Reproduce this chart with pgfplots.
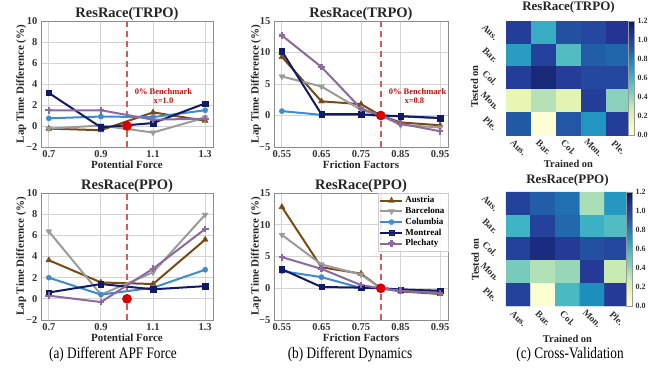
\documentclass[border=0pt]{standalone}
\usepackage{fontspec}
\setmainfont{Liberation Serif}
\newfontfamily\capfont[FakeStretch=0.83]{Liberation Serif}
\usepackage{pgfplots}
\pgfplotsset{compat=1.18}

\definecolor{cAus}{HTML}{7A4A14}
\definecolor{cBar}{HTML}{9B9B9B}
\definecolor{cCol}{HTML}{3D8BD0}
\definecolor{cMon}{HTML}{111A66}
\definecolor{cPle}{HTML}{8C69A0}
\definecolor{cDash}{HTML}{D65A5A}
\definecolor{cDot}{HTML}{D80000}
\definecolor{cAnn}{HTML}{C01010}

\tikzset{ann/.style={font=\bfseries\fontsize{8.5}{10}\selectfont, text=cAnn, anchor=base},
  hmylab/.style={rotate=90, anchor=base, font=\bfseries\fontsize{10.5}{12}\selectfont, text=black!85}}

\pgfplotsset{
  lp/.style={
    scale only axis,
    grid=major,
    grid style={draw=black!17, line width=0.9pt},
    axis line style={draw=black!45, line width=0.6pt},
    major tick length=0pt,
    /pgf/number format/assume math mode=true,
    tick label style={font=\bfseries\fontsize{10.5}{12}\selectfont, text=black!80},
    every axis title/.style={at={(0.5,1)}, anchor=base, yshift=4pt, font=\bfseries\fontsize{14.5}{16}\selectfont, text=black!85},
    every axis x label/.style={at={(axis description cs:0.5,0)}, anchor=base, yshift=-21pt, font=\bfseries\fontsize{11}{13}\selectfont, text=black!85},
    every axis y label/.style={at={(axis description cs:0,0.5)}, rotate=90, anchor=base, yshift=17pt, font=\bfseries\fontsize{11}{13}\selectfont, text=black!85},
    ylabel={Lap Time Difference (\%)},
    every axis plot/.append style={line width=2pt},
  },
  aus/.style={color=cAus, mark=triangle*, mark size=3.4pt, mark options={line width=0.4pt}},
  bar/.style={color=cBar, mark=triangle*, mark size=3.4pt, mark options={rotate=180, line width=0.4pt}},
  col/.style={color=cCol, mark=*, mark size=2.6pt, mark options={line width=0.4pt}},
  mon/.style={color=cMon, mark=square*, mark size=2.7pt, mark options={line width=0.4pt}},
  ple/.style={color=cPle, mark=+, mark size=3.4pt, mark options={line width=2.2pt}},
  hm/.style={
    scale only axis,
    clip=false,
    enlargelimits=false,
    xmin=-0.5, xmax=4.5, ymin=-0.5, ymax=4.5, y dir=reverse,
    xtick={0,1,2,3,4}, ytick={0,1,2,3,4},
    xticklabels={Aus.,Bar.,Col.,Mon.,Ple.},
    yticklabels={Aus.,Bar.,Col.,Mon.,Ple.},
    major tick length=0pt,
    axis line style={draw=none},
    xticklabel style={anchor=center, yshift=-12.5pt, rotate=-45, font=\bfseries\fontsize{9.5}{11}\selectfont, text=black!80},
    yticklabel style={anchor=center, xshift=-16pt, rotate=-45, font=\bfseries\fontsize{9.5}{11}\selectfont, text=black!80},
    colormap={ylgnbu}{rgb255=(255,255,217) rgb255=(237,248,177) rgb255=(199,233,180) rgb255=(127,205,187) rgb255=(65,182,196) rgb255=(29,145,192) rgb255=(34,94,168) rgb255=(37,52,148) rgb255=(8,29,88)},
    point meta min=0, point meta max=1.2,
    colorbar,
    colorbar shift/.style={xshift=-3pt},
    colorbar style={
      at={(parent axis.north east)}, anchor=north west,
      width=6pt, y dir=normal,
      ytick={0,0.2,0.4,0.6,0.8,1.0,1.2},
      yticklabels={0.0,0.2,0.4,0.6,0.8,1.0,1.2},
      yticklabel style={rotate=0, anchor=west, xshift=0pt, font=\bfseries\fontsize{8}{9}\selectfont, text=black!80},
      major tick length=0pt,
      axis line style={draw=black!40, line width=0.4pt},
      title={}, xlabel={}, ylabel={},
    },
    every axis x label/.style={at={(axis description cs:0.5,0)}, anchor=base, font=\bfseries\fontsize{10.5}{12}\selectfont, text=black!85},
    xlabel={Trained on},
  },
}

\begin{document}
\begin{tikzpicture}
\useasboundingbox (0pt,0pt) rectangle (669pt,368pt);

% ---------------- (a) top: TRPO, potential force
\begin{axis}[lp, at={(41pt,221pt)}, anchor=south west, width=172pt, height=126pt,
  title={ResRace(TRPO)}, xlabel={Potential Force},
  xmin=0.67, xmax=1.33, ymin=-2, ymax=10,
  xtick={0.7,0.9,1.1,1.3}, xticklabels={0.7,0.9,1.1,1.3},
  ytick={-2,0,2,4,6,8,10}, yticklabels={−2,0,2,4,6,8,10}]
\addplot[cDash, line width=1.5pt, dash pattern=on 6pt off 4pt, forget plot] coordinates {(1.0,-2) (1.0,10)};
\addplot[aus] coordinates {(0.7,-0.25) (0.9,-0.4) (1.1,1.3) (1.3,0.5)};
\addplot[bar] coordinates {(0.7,-0.25) (0.9,0.05) (1.1,-0.62) (1.3,0.8)};
\addplot[col] coordinates {(0.7,0.73) (0.9,0.9) (1.1,0.85) (1.3,1.5)};
\addplot[mon] coordinates {(0.7,3.15) (0.9,-0.13) (1.1,0.28) (1.3,2.15)};
\addplot[ple] coordinates {(0.7,1.5) (0.9,1.5) (1.1,0.6) (1.3,0.7)};
\addplot[only marks, mark=*, mark size=3.8pt, cDot, forget plot] coordinates {(1.0,0)};
\node[ann] at (axis cs:1.14,3.02) {0\% Benchmark};
\node[ann] at (axis cs:1.14,2.16) {x=1.0};
\end{axis}

% ---------------- (a) bottom: PPO, potential force
\begin{axis}[lp, at={(41pt,48pt)}, anchor=south west, width=172pt, height=127pt,
  title={ResRace(PPO)}, xlabel={Potential Force},
  xmin=0.67, xmax=1.33, ymin=-2, ymax=10,
  xtick={0.7,0.9,1.1,1.3}, xticklabels={0.7,0.9,1.1,1.3},
  ytick={-2,0,2,4,6,8,10}, yticklabels={−2,0,2,4,6,8,10}]
\addplot[cDash, line width=1.5pt, dash pattern=on 6pt off 4pt, forget plot] coordinates {(1.0,-2) (1.0,10)};
\addplot[aus] coordinates {(0.7,3.65) (0.9,1.55) (1.1,1.4) (1.3,5.6)};
\addplot[bar] coordinates {(0.7,6.37) (0.9,0.4) (1.1,2.5) (1.3,7.95)};
\addplot[col] coordinates {(0.7,2.0) (0.9,0.4) (1.1,1.05) (1.3,2.75)};
\addplot[mon] coordinates {(0.7,0.6) (0.9,1.4) (1.1,0.9) (1.3,1.2)};
\addplot[ple] coordinates {(0.7,0.3) (0.9,-0.3) (1.1,2.85) (1.3,6.6)};
\addplot[only marks, mark=*, mark size=3.8pt, cDot, forget plot] coordinates {(1.0,0)};
\end{axis}

% ---------------- (b) top: TRPO, friction
\begin{axis}[lp, at={(274pt,221pt)}, anchor=south west, width=174pt, height=126pt,
  title={ResRace(TRPO)}, xlabel={Friction Factors},
  every axis y label/.append style={yshift=-1.5pt},
  xmin=0.53, xmax=0.97, ymin=-5, ymax=15,
  xtick={0.55,0.65,0.75,0.85,0.95}, xticklabels={0.55,0.65,0.75,0.85,0.95},
  ytick={-5,0,5,10,15}, yticklabels={−5,0,5,10,15}]
\addplot[cDash, line width=1.5pt, dash pattern=on 6pt off 4pt, forget plot] coordinates {(0.8,-5) (0.8,15)};
\addplot[aus] coordinates {(0.55,9.3) (0.65,2.25) (0.75,1.8) (0.8,0) (0.85,-1.1) (0.95,-1.55)};
\addplot[bar] coordinates {(0.55,6.2) (0.65,4.6) (0.75,0.9) (0.8,0) (0.85,-1.5) (0.95,-1.9)};
\addplot[col] coordinates {(0.55,0.7) (0.65,0.1) (0.75,0.1) (0.8,0) (0.85,-0.15) (0.95,-0.4)};
\addplot[mon] coordinates {(0.55,10.2) (0.65,0.2) (0.75,0.2) (0.8,0) (0.85,-0.1) (0.95,-0.4)};
\addplot[ple] coordinates {(0.55,12.7) (0.65,7.7) (0.75,1.1) (0.8,0) (0.85,-1.3) (0.95,-2.5)};
\addplot[only marks, mark=*, mark size=3.8pt, cDot, forget plot] coordinates {(0.8,0)};
\node[ann] at (axis cs:0.893,3.37) {0\% Benchmark};
\node[ann] at (axis cs:0.885,1.83) {x=0.8};
\end{axis}

% ---------------- (b) bottom: PPO, friction
\begin{axis}[lp, at={(274pt,48pt)}, anchor=south west, width=174pt, height=127pt,
  title={ResRace(PPO)}, xlabel={Friction Factors},
  every axis y label/.append style={yshift=-1.5pt},
  xmin=0.53, xmax=0.97, ymin=-5, ymax=15,
  xtick={0.55,0.65,0.75,0.85,0.95}, xticklabels={0.55,0.65,0.75,0.85,0.95},
  ytick={-5,0,5,10,15}, yticklabels={−5,0,5,10,15},
  legend style={at={(1,1)}, anchor=north east, draw=black!20, fill=white, fill opacity=0.85, text opacity=1,
    font=\bfseries\fontsize{9}{10}\selectfont, inner sep=1.5pt, row sep=-1pt},
  legend cell align=left,
  legend image code/.code={\draw[mark repeat=2, mark phase=2] plot coordinates {(0pt,0pt) (11pt,0pt) (22pt,0pt)};}]
\addplot[cDash, line width=1.5pt, dash pattern=on 6pt off 4pt, forget plot] coordinates {(0.8,-5) (0.8,15)};
\addplot[aus] coordinates {(0.55,12.8) (0.65,3.3) (0.75,2.3) (0.8,0) (0.85,-0.5) (0.95,-0.9)};
\addplot[bar] coordinates {(0.55,8.4) (0.65,3.75) (0.75,2.15) (0.8,0) (0.85,-0.4) (0.95,-0.75)};
\addplot[col] coordinates {(0.55,2.7) (0.65,1.75) (0.75,0.05) (0.8,0) (0.85,-0.2) (0.95,-0.4)};
\addplot[mon] coordinates {(0.55,3.0) (0.65,0.2) (0.75,0.1) (0.8,0) (0.85,-0.2) (0.95,-0.4)};
\addplot[ple] coordinates {(0.55,4.9) (0.65,3.05) (0.75,0.5) (0.8,0) (0.85,-0.4) (0.95,-0.75)};
\addplot[only marks, mark=*, mark size=3.8pt, cDot, forget plot] coordinates {(0.8,0)};
\legend{Austria,Barcelona,Columbia,Montreal,Plechaty}
\end{axis}

% ---------------- (c) top heatmap TRPO
\begin{axis}[hm, at={(506pt,233pt)}, anchor=south west, width=125pt, height=114pt,
  title={ResRace(TRPO)},
  title style={at={(0.5,1)}, anchor=base, yshift=5pt, font=\bfseries\fontsize{13}{15}\selectfont, text=black!85},
  xlabel style={yshift=-32pt}]
\addplot[matrix plot*, mesh/cols=5, point meta=explicit] table[meta=c] {
x y c
0 0 1.02
1 0 0.64
2 0 0.95
3 0 0.98
4 0 1.05
0 1 0.70
1 1 1.00
2 1 0.56
3 1 0.90
4 1 0.88
0 2 1.02
1 2 1.12
2 2 1.02
3 2 0.98
4 2 0.98
0 3 0.17
1 3 0.34
2 3 0.19
3 3 1.02
4 3 0.43
0 4 0.92
1 4 0.02
2 4 0.93
3 4 0.73
4 4 1.02
};
\node[hmylab] at (axis description cs:-0.224,0.425) {Tested on};
\end{axis}

% ---------------- (c) bottom heatmap PPO
\begin{axis}[hm, at={(506pt,62pt)}, anchor=south west, width=123pt, height=114pt,
  title={ResRace(PPO)},
  title style={at={(0.5,1)}, anchor=base, yshift=2.5pt, font=\bfseries\fontsize{13}{15}\selectfont, text=black!85},
  xlabel style={yshift=-36pt}]
\addplot[matrix plot*, mesh/cols=5, point meta=explicit] table[meta=c] {
x y c
0 0 1.00
1 0 0.90
2 0 0.85
3 0 0.36
4 0 0.72
0 1 0.61
1 1 1.00
2 1 0.87
3 1 0.62
4 1 0.56
0 2 1.00
1 2 1.10
2 2 1.03
3 2 0.95
4 2 0.98
0 3 0.47
1 3 0.35
2 3 0.40
3 3 1.03
4 3 0.29
0 4 1.00
1 4 0.03
2 4 0.58
3 4 0.76
4 4 1.03
};
\node[hmylab] at (axis description cs:-0.22,0.406) {Tested on};
\end{axis}

% ---------------- captions
\node[anchor=base, font=\capfont\fontsize{16}{18}\selectfont] at (113pt,10pt) {(a) Different APF Force};
\node[anchor=base, font=\capfont\fontsize{16}{18}\selectfont] at (350pt,10pt) {(b) Different Dynamics};
\node[anchor=base, font=\capfont\fontsize{16}{18}\selectfont] at (570pt,10pt) {(c) Cross-Validation};
\end{tikzpicture}
\end{document}
